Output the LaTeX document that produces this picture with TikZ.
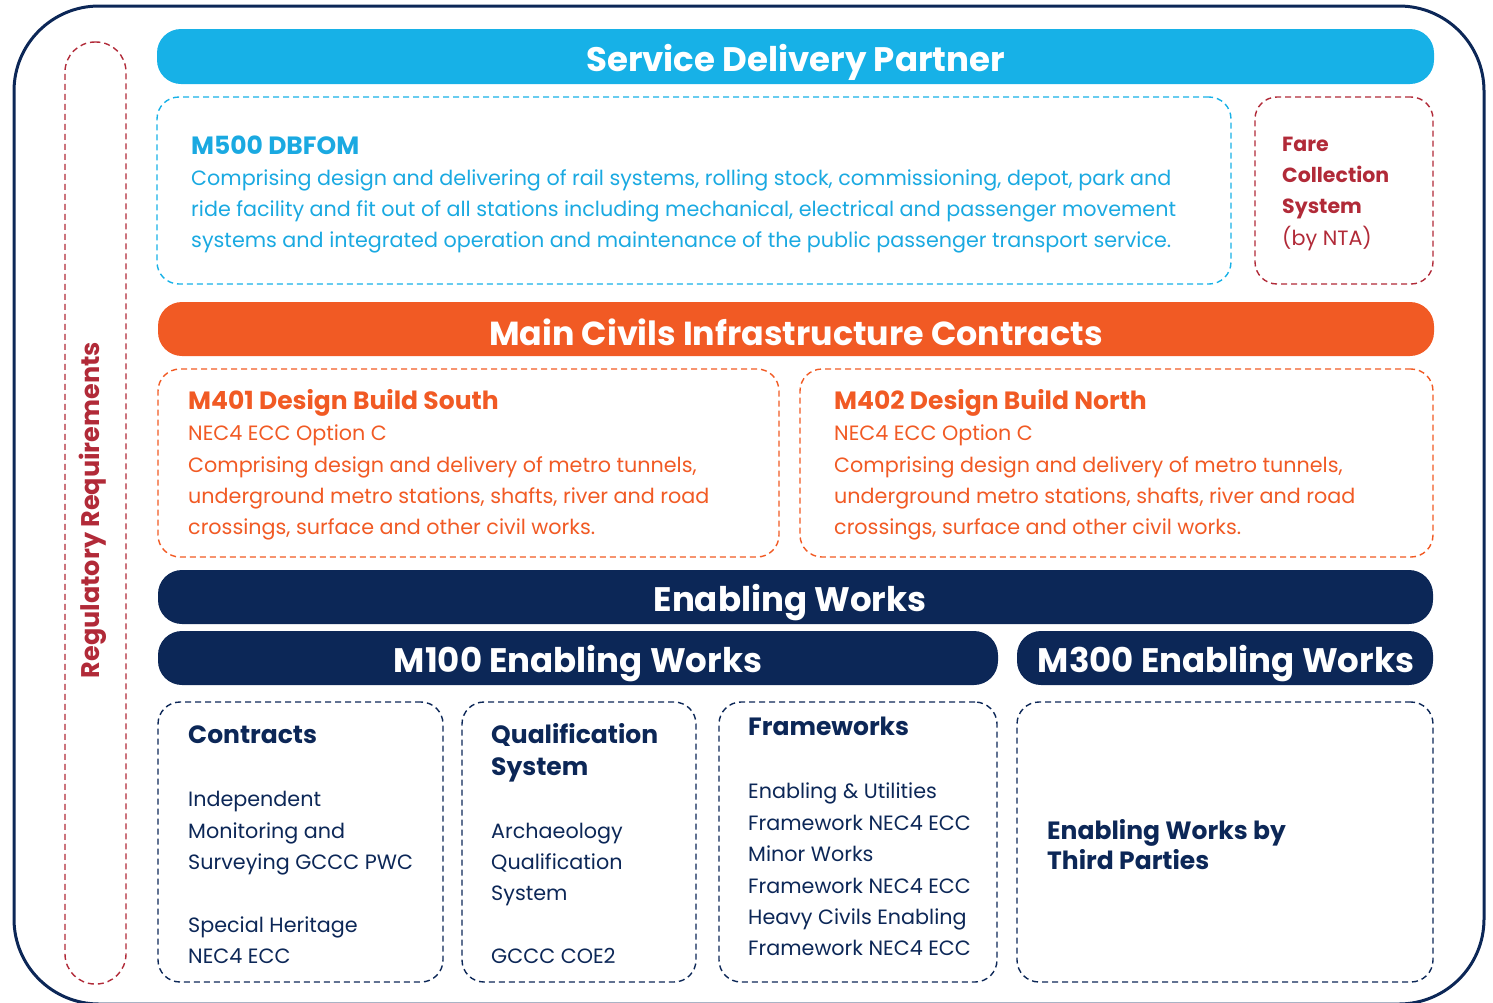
\documentclass[tikz,border=0pt]{standalone}
\usepackage{fontspec}
\setmainfont{Poppins}
\definecolor{cyanc}{HTML}{17B1E7}
\definecolor{cyant}{HTML}{1AA9E1}
\definecolor{orangec}{HTML}{F15A24}
\definecolor{navyc}{HTML}{0C2757}
\definecolor{redc}{HTML}{B12A38}
\tikzset{
  bar/.style={rounded corners=24pt, inner sep=0pt, text=white, font=\bfseries\fontsize{34}{40}\selectfont},
  bart/.style={text=white, font=\bfseries\fontsize{34}{40}\selectfont, inner sep=0pt},
  dbox/.style={draw, dash pattern=on 6pt off 4pt, line width=1.4pt, rounded corners=22pt, inner sep=0pt},
  tl/.style={anchor=base west, inner sep=0pt, font=\fontsize{20.7}{24}\selectfont},
  tb/.style={anchor=base west, inner sep=0pt, font=\bfseries\fontsize{25}{28}\selectfont},
}
\begin{document}
\begin{tikzpicture}[x=1pt,y=-1pt]
\useasboundingbox (0,0) rectangle (1493,1002);
% outer frame
\draw[navyc, line width=3pt, rounded corners=85pt] (14,6) rectangle (1484,1004);
% regulatory
\node[dbox, draw=redc, rounded corners=30pt, minimum width=61pt, minimum height=942pt] (reg) at (95.5,513) {};
\node[rotate=90, text=redc, font=\bfseries\fontsize{25.5}{30}\selectfont, inner sep=0pt] (regt) at (93,510) {Regulatory Requirements};
% Service delivery partner
\node[bar, fill=cyanc, minimum width=1277pt, minimum height=55pt] (sdp) at (795.5,56.5) {};
\node[bart] (sdpt) at (795.5,62) {Service Delivery Partner};
% M500
\node[dbox, draw=cyanc, minimum width=1074pt, minimum height=187pt] (m500) at (694,190.5) {};
\node[tb, text=cyant] (m500a) at (191,154) {M500 DBFOM};
\node[tl, text=cyant] (m500b) at (191,185) {Comprising design and delivering of rail systems, rolling stock, commissioning, depot, park and};
\node[tl, text=cyant] (m500c) at (191,216) {ride facility and fit out of all stations including mechanical, electrical and passenger movement};
\node[tl, text=cyant] (m500d) at (191,247) {systems and integrated operation and maintenance of the public passenger transport service.};
% Fare
\node[dbox, draw=redc, minimum width=178pt, minimum height=187pt] (fare) at (1344,190.5) {};
\node[tl, text=redc, font=\bfseries\fontsize{20.5}{24}\selectfont] (farea) at (1282,151) {Fare};
\node[tl, text=redc, font=\bfseries\fontsize{20.5}{24}\selectfont] (fareb) at (1282,182) {Collection};
\node[tl, text=redc, font=\bfseries\fontsize{20.5}{24}\selectfont] (farec) at (1282,213) {System};
\node[tl, text=redc] (fared) at (1282,245) {(by NTA)};
% Main civils
\node[bar, fill=orangec, minimum width=1276pt, minimum height=54pt] (mci) at (796,329) {};
\node[bart, font=\bfseries\fontsize{33.3}{40}\selectfont] (mcit) at (796,332) {Main Civils Infrastructure Contracts};
% M401
\node[dbox, draw=orangec, minimum width=621pt, minimum height=188pt] (m401) at (468.5,463) {};
\node[tb, text=orangec] (m401a) at (188,409) {M401 Design Build South};
\node[tl, text=orangec] (m401b) at (188,440) {NEC4 ECC Option C};
\node[tl, text=orangec] (m401c) at (188,472) {Comprising design and delivery of metro tunnels,};
\node[tl, text=orangec] (m401d) at (188,503) {underground metro stations, shafts, river and road};
\node[tl, text=orangec] (m401e) at (188,534) {crossings, surface and other civil works.};
% M402
\node[dbox, draw=orangec, minimum width=633pt, minimum height=188pt] (m402) at (1116.5,463) {};
\node[tb, text=orangec] (m402a) at (834,409) {M402 Design Build North};
\node[tl, text=orangec] (m402b) at (834,440) {NEC4 ECC Option C};
\node[tl, text=orangec] (m402c) at (834,472) {Comprising design and delivery of metro tunnels,};
\node[tl, text=orangec] (m402d) at (834,503) {underground metro stations, shafts, river and road};
\node[tl, text=orangec] (m402e) at (834,534) {crossings, surface and other civil works.};
% Enabling works
\node[bar, fill=navyc, minimum width=1275pt, minimum height=54pt] (ew) at (795.5,597) {};
\node[bart] (ewt) at (790,603) {Enabling Works};
\node[bar, fill=navyc, minimum width=840pt, minimum height=54pt] (m100) at (578,658) {};
\node[bart] (m100t) at (578,664) {M100 Enabling Works};
\node[bar, fill=navyc, minimum width=416pt, minimum height=54pt] (m300) at (1225,658) {};
\node[bart] (m300t) at (1226,664) {M300 Enabling Works};
% Contracts
\node[dbox, draw=navyc, minimum width=285pt, minimum height=280pt] (con) at (300.5,842) {};
\node[tb, text=navyc] (cona) at (188,743) {Contracts};
\node[tl, text=navyc] (conb) at (188,806) {Independent};
\node[tl, text=navyc] (conc) at (188,838) {Monitoring and};
\node[tl, text=navyc] (cond) at (188,869) {Surveying GCCC PWC};
\node[tl, text=navyc] (cone) at (188,932) {Special Heritage};
\node[tl, text=navyc] (conf) at (188,963) {NEC4 ECC};
% Qualification
\node[dbox, draw=navyc, minimum width=234pt, minimum height=280pt] (qs) at (579,842) {};
\node[tb, text=navyc] (qsa) at (491,743) {Qualification};
\node[tb, text=navyc] (qsb) at (491,775) {System};
\node[tl, text=navyc] (qsc) at (491,838) {Archaeology};
\node[tl, text=navyc] (qsd) at (491,869) {Qualification};
\node[tl, text=navyc] (qse) at (491,900) {System};
\node[tl, text=navyc] (qsf) at (491,963) {GCCC COE2};
% Frameworks
\node[dbox, draw=navyc, minimum width=278pt, minimum height=280pt] (fw) at (858,842) {};
\node[tb, text=navyc] (fwa) at (748,735) {Frameworks};
\node[tl, text=navyc] (fwb) at (748,798) {Enabling \& Utilities};
\node[tl, text=navyc] (fwc) at (748,830) {Framework NEC4 ECC};
\node[tl, text=navyc] (fwd) at (748,861) {Minor Works};
\node[tl, text=navyc] (fwe) at (748,893) {Framework NEC4 ECC};
\node[tl, text=navyc] (fwf) at (748,924) {Heavy Civils Enabling};
\node[tl, text=navyc] (fwg) at (748,955) {Framework NEC4 ECC};
% Third parties
\node[dbox, draw=navyc, minimum width=416pt, minimum height=280pt] (tp) at (1225,842) {};
\node[tb, text=navyc] (tpa) at (1047,839) {Enabling Works by};
\node[tb, text=navyc] (tpb) at (1047,869) {Third Parties};
\end{tikzpicture}
\end{document}
